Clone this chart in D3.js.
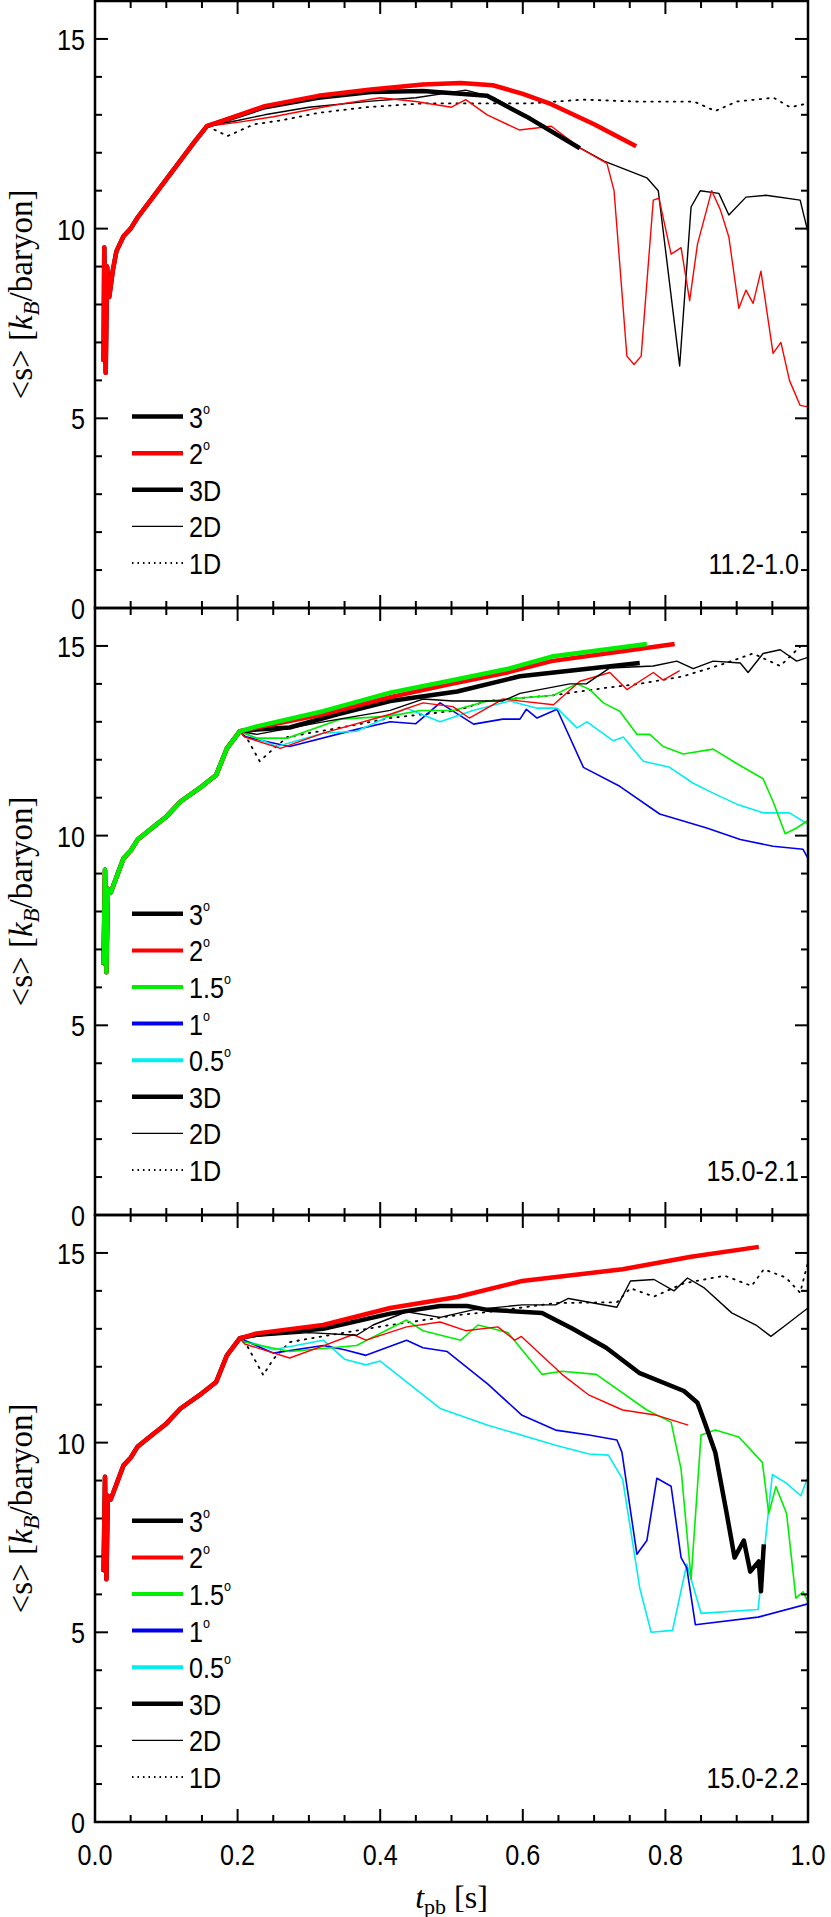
<!DOCTYPE html>
<html>
<head>
<meta charset="utf-8">
<script src="https://cdn.jsdelivr.net/npm/d3@7"></script>
<style>
  body { margin: 0; background: #fff; }
  svg { display: block; }
</style>
</head>
<body>
<svg id="chart" width="831" height="1917"></svg>
<script>
// Early rise, shared by all runs of a progenitor
const rise11 = [[0.012,6.5],[0.013,9.5],[0.015,6.2],[0.017,9.0],[0.02,8.2],[0.025,8.9],[0.03,9.4],[0.04,9.8],[0.05,10.0],[0.06,10.3],[0.08,10.8],[0.1,11.3],[0.12,11.8],[0.14,12.3],[0.157,12.7]];
const rise15 = [[0.012,6.6],[0.014,9.1],[0.016,6.4],[0.018,8.6],[0.022,8.5],[0.03,8.9],[0.04,9.4],[0.05,9.6],[0.06,9.9],[0.08,10.2],[0.1,10.5],[0.12,10.9],[0.15,11.3],[0.17,11.6],[0.185,12.3],[0.203,12.75]];

// Panel 1: 11.2-1.0
const p1_red3d = [[0.238,13.23],[0.313,13.5],[0.387,13.67],[0.46,13.8],[0.513,13.84],[0.558,13.78],[0.6,13.55],[0.64,13.28],[0.7,12.75],[0.759,12.17]];
const p1_black3d = [[0.238,13.2],[0.313,13.45],[0.387,13.6],[0.46,13.63],[0.55,13.5],[0.61,12.9],[0.68,12.12]];
const p1_red2d = [[0.2,12.8],[0.25,12.95],[0.313,13.18],[0.35,13.3],[0.4,13.45],[0.45,13.35],[0.5,13.2],[0.52,13.4],[0.55,13.0],[0.595,12.6],[0.64,12.7],[0.68,12.13],[0.718,11.72],[0.728,11.0],[0.746,6.64],[0.756,6.42],[0.766,6.64],[0.783,10.75],[0.791,10.8],[0.808,9.33],[0.822,9.5],[0.834,8.1],[0.845,9.59],[0.865,11.0],[0.877,10.5],[0.889,9.78],[0.903,7.9],[0.913,8.38],[0.923,8.03],[0.934,8.88],[0.951,6.71],[0.962,7.0],[0.974,6.0],[0.989,5.34],[1.0,5.3]];
const p1_black2d = [[0.2,12.85],[0.238,13.0],[0.3,13.2],[0.387,13.36],[0.45,13.45],[0.52,13.65],[0.56,13.45],[0.64,12.6],[0.68,12.13],[0.714,11.78],[0.774,11.34],[0.79,11.0],[0.82,6.38],[0.836,10.57],[0.849,11.0],[0.875,10.93],[0.889,10.36],[0.913,10.83],[0.941,10.88],[0.989,10.75],[1.0,9.9]];
const p1_1d = [[0.186,12.44],[0.223,12.75],[0.26,12.85],[0.313,13.05],[0.38,13.2],[0.46,13.3],[0.61,13.3],[0.684,13.4],[0.76,13.35],[0.84,13.35],[0.87,13.1],[0.9,13.35],[0.952,13.45],[0.975,13.2],[1.0,13.3]];

// Panel 2: 15.0-2.1
const p2_green3d = [[0.227,12.88],[0.32,13.28],[0.414,13.77],[0.508,14.12],[0.578,14.39],[0.643,14.73],[0.774,15.05]];
const p2_red3d = [[0.227,12.85],[0.32,13.2],[0.414,13.65],[0.5,14.0],[0.578,14.3],[0.64,14.6],[0.813,15.05]];
const p2_black3d = [[0.227,12.8],[0.273,12.85],[0.34,13.2],[0.414,13.55],[0.508,13.8],[0.596,14.2],[0.764,14.55]];
const p2_black2d = [[0.227,12.67],[0.32,13.0],[0.414,13.3],[0.46,13.6],[0.502,13.55],[0.572,13.55],[0.596,13.75],[0.666,14.0],[0.689,14.0],[0.722,14.42],[0.783,14.47],[0.816,14.6],[0.839,14.4],[0.867,14.6],[0.905,14.55],[0.916,14.3],[0.937,14.8],[0.961,14.9],[0.984,14.6],[1.0,14.7]];
const p2_1d = [[0.213,12.57],[0.231,11.96],[0.245,12.2],[0.27,12.6],[0.36,12.9],[0.414,13.1],[0.508,13.3],[0.55,13.55],[0.643,13.7],[0.718,13.9],[0.764,14.0],[0.825,14.2],[0.877,14.5],[0.923,14.8],[0.961,14.47],[0.99,15.0]];
const p2_red2d = [[0.21,12.6],[0.26,12.3],[0.32,12.7],[0.414,13.2],[0.46,13.5],[0.502,13.4],[0.525,13.1],[0.572,13.6],[0.643,13.45],[0.68,14.07],[0.722,14.3],[0.746,13.85],[0.783,14.3],[0.797,14.1],[0.82,14.35]];
const p2_green2d = [[0.227,12.57],[0.27,12.57],[0.344,13.07],[0.414,13.15],[0.456,13.3],[0.502,13.3],[0.55,13.55],[0.643,13.7],[0.676,14.0],[0.694,13.85],[0.713,13.5],[0.736,13.28],[0.76,12.67],[0.778,12.67],[0.797,12.35],[0.825,12.15],[0.867,12.28],[0.9,11.9],[0.937,11.5],[0.951,10.9],[0.968,10.05],[0.984,10.2],[1.0,10.4]];
const p2_blue2d = [[0.209,12.62],[0.235,12.5],[0.273,12.35],[0.367,12.8],[0.414,13.0],[0.45,12.95],[0.484,13.5],[0.531,12.94],[0.572,13.07],[0.596,13.07],[0.605,13.33],[0.62,13.1],[0.648,13.33],[0.685,11.8],[0.736,11.3],[0.792,10.57],[0.858,10.2],[0.905,9.9],[0.951,9.72],[0.993,9.64],[1.0,9.4]];
const p2_cyan2d = [[0.209,12.7],[0.255,12.35],[0.32,12.7],[0.367,12.75],[0.437,13.36],[0.484,13.0],[0.53,13.3],[0.582,13.55],[0.62,13.36],[0.648,13.36],[0.676,12.84],[0.69,13.0],[0.727,12.5],[0.741,12.6],[0.769,11.96],[0.806,11.8],[0.839,11.38],[0.867,11.12],[0.9,10.83],[0.937,10.6],[0.974,10.6],[1.0,10.3]];

// Panel 3: 15.0-2.2
const p3_red3d = [[0.227,12.88],[0.32,13.1],[0.414,13.55],[0.508,13.84],[0.599,14.26],[0.74,14.57],[0.836,14.9],[0.931,15.16]];
const p3_black3d = [[0.227,12.85],[0.32,13.0],[0.414,13.4],[0.484,13.6],[0.522,13.6],[0.55,13.5],[0.627,13.42],[0.67,13.0],[0.717,12.5],[0.764,11.83],[0.826,11.36],[0.845,11.05],[0.855,10.54],[0.87,9.74],[0.886,8.13],[0.897,6.97],[0.91,7.42],[0.919,6.6],[0.931,6.87],[0.934,6.08],[0.938,7.32]];
const p3_black2d = [[0.227,12.8],[0.3,12.9],[0.367,12.83],[0.39,13.1],[0.437,13.45],[0.484,13.3],[0.53,13.5],[0.599,13.63],[0.646,13.63],[0.664,13.8],[0.732,13.57],[0.751,14.26],[0.784,14.3],[0.812,14.0],[0.831,14.34],[0.855,14.07],[0.893,13.42],[0.927,13.1],[0.948,12.8],[0.969,13.1],[1.0,13.55]];
const p3_1d = [[0.209,12.7],[0.236,11.78],[0.25,12.2],[0.273,12.65],[0.35,12.9],[0.414,13.1],[0.508,13.36],[0.55,13.44],[0.646,13.68],[0.732,13.7],[0.751,14.07],[0.784,13.85],[0.826,14.2],[0.883,14.4],[0.921,14.13],[0.938,14.57],[0.969,14.35],[0.989,13.95],[1.0,14.76]];
const p3_red2d = [[0.21,12.6],[0.273,12.23],[0.32,12.55],[0.362,12.85],[0.38,12.7],[0.437,13.05],[0.484,13.18],[0.52,12.95],[0.565,13.05],[0.589,12.7],[0.598,12.8],[0.655,11.8],[0.693,11.25],[0.74,10.86],[0.788,10.72],[0.832,10.46]];
const p3_green2d = [[0.21,12.65],[0.273,12.4],[0.367,12.56],[0.437,13.23],[0.46,12.95],[0.513,12.7],[0.537,13.1],[0.565,12.97],[0.579,12.9],[0.627,11.8],[0.655,11.88],[0.703,11.8],[0.774,10.86],[0.808,10.54],[0.822,9.3],[0.836,6.4],[0.85,10.2],[0.87,10.33],[0.903,10.15],[0.936,9.48],[0.945,8.13],[0.955,8.84],[0.97,8.13],[0.983,5.9],[0.993,6.07],[1.0,5.8]];
const p3_blue2d = [[0.209,12.7],[0.25,12.36],[0.32,12.56],[0.35,12.45],[0.38,12.3],[0.437,12.7],[0.46,12.5],[0.494,12.4],[0.551,11.54],[0.599,10.72],[0.646,10.33],[0.693,10.2],[0.732,10.07],[0.739,9.75],[0.76,7.06],[0.774,7.42],[0.788,9.06],[0.808,8.85],[0.822,6.97],[0.83,6.7],[0.842,5.2],[0.93,5.4],[1.0,5.75]];
const p3_cyan2d = [[0.209,12.7],[0.25,12.45],[0.32,12.7],[0.35,12.2],[0.38,12.05],[0.4,12.15],[0.484,10.9],[0.551,10.46],[0.646,9.93],[0.693,9.7],[0.72,9.67],[0.74,9.04],[0.764,6.17],[0.78,5.0],[0.81,5.05],[0.83,6.8],[0.85,5.5],[0.93,5.6],[0.95,9.16],[0.969,8.94],[0.99,8.6],[1.0,9.1]];

const panelLabels = ['11.2-1.0', '15.0-2.1', '15.0-2.2'];
const xTicks = [0, 0.2, 0.4, 0.6, 0.8, 1.0];
const yTicks = [0, 5, 10, 15];

const C = { black: '#000', red: '#ff0000', green: '#00ee00', blue: '#0000ee', cyan: '#00eeee' };

const panels = [
  {
    series: [
      { d: rise11.concat(p1_1d), c: C.black, w: 1.8, dash: '1.5,6' },
      { d: rise11.concat(p1_black2d), c: C.black, w: 1.4 },
      { d: rise11.concat(p1_red2d), c: C.red, w: 1.4 },
      { d: rise11.concat(p1_black3d), c: C.black, w: 4.5 },
      { d: rise11.concat(p1_red3d), c: C.red, w: 4.5 }
    ],
    legend: [['3', C.black, 4.5, true], ['2', C.red, 4.5, true], ['3D', C.black, 4.5], ['2D', C.black, 1.4], ['1D', C.black, 1.8, false, '1.5,4']]
  },
  {
    series: [
      { d: rise15.concat(p2_1d), c: C.black, w: 1.8, dash: '1.5,6' },
      { d: rise15.concat(p2_blue2d), c: C.blue, w: 1.6 },
      { d: rise15.concat(p2_cyan2d), c: C.cyan, w: 1.6 },
      { d: rise15.concat(p2_green2d), c: C.green, w: 1.6 },
      { d: rise15.concat(p2_red2d), c: C.red, w: 1.4 },
      { d: rise15.concat(p2_black2d), c: C.black, w: 1.4 },
      { d: rise15.concat(p2_black3d), c: C.black, w: 4.5 },
      { d: rise15.concat(p2_red3d), c: C.red, w: 4.5 },
      { d: rise15.concat(p2_green3d), c: C.green, w: 4.5 }
    ],
    legend: [['3', C.black, 4.5, true], ['2', C.red, 4, true], ['1.5', C.green, 4, true], ['1', C.blue, 4, true], ['0.5', C.cyan, 4, true], ['3D', C.black, 4.5], ['2D', C.black, 1.4], ['1D', C.black, 1.8, false, '1.5,4']]
  },
  {
    series: [
      { d: rise15.concat(p3_1d), c: C.black, w: 1.8, dash: '1.5,6' },
      { d: rise15.concat(p3_cyan2d), c: C.cyan, w: 1.6 },
      { d: rise15.concat(p3_blue2d), c: C.blue, w: 1.6 },
      { d: rise15.concat(p3_green2d), c: C.green, w: 1.6 },
      { d: rise15.concat(p3_red2d), c: C.red, w: 1.4 },
      { d: rise15.concat(p3_black2d), c: C.black, w: 1.4 },
      { d: rise15.concat(p3_black3d), c: C.black, w: 4.5 },
      { d: rise15.concat(p3_red3d), c: C.red, w: 4.5 }
    ],
    legend: [['3', C.black, 4.5, true], ['2', C.red, 4, true], ['1.5', C.green, 4, true], ['1', C.blue, 4, true], ['0.5', C.cyan, 4, true], ['3D', C.black, 4.5], ['2D', C.black, 1.4], ['1D', C.black, 1.8, false, '1.5,4']]
  }
];

const svg = d3.select('#chart');
const left = 95, right = 808, top0 = 1, panelH = 607;
const sans = '"Liberation Sans", Arial, sans-serif';
const serif = '"Liberation Serif", "DejaVu Serif", serif';
const fs = 30, squeeze = 0.84;

// condensed sans text: scale horizontally around its anchor point
function narrowText(parent, px, py, anchor, str) {
  return parent.append('text')
    .attr('transform', `translate(${px},${py}) scale(${squeeze},1)`)
    .attr('text-anchor', anchor).attr('font-family', sans).attr('font-size', fs)
    .text(str);
}

const x = d3.scaleLinear().domain([0, 1]).range([left, right]);

panels.forEach((p, i) => {
  const top = top0 + i * panelH;
  const bottom = top + panelH;
  const y = d3.scaleLinear().domain([0, 16]).range([bottom, top]);
  const g = svg.append('g');

  g.append('clipPath').attr('id', 'clip' + i)
    .append('rect').attr('x', left).attr('y', top).attr('width', right - left).attr('height', panelH);

  let line = d3.line().x((d) => x(d[0])).y((d) => y(d[1]));
  let lines = g.append('g').attr('clip-path', `url(#clip${i})`);
  p.series.forEach((s) => {
    lines.append('path')
      .attr('d', line(s.d))
      .attr('fill', 'none')
      .attr('stroke', s.c)
      .attr('stroke-width', s.w)
      .attr('stroke-linejoin', 'round')
      .attr('stroke-linecap', s.dash ? 'round' : 'butt')
      .attr('stroke-dasharray', s.dash || null);
  });

  // ticks (inward, on all four sides)
  let tk = g.append('g').attr('stroke', '#000').attr('stroke-width', 2);
  d3.range(0, 16.01, 1).forEach((v) => {
    let len = v % 5 === 0 ? 13 : 7;
    tk.append('line').attr('x1', left).attr('x2', left + len).attr('y1', y(v)).attr('y2', y(v));
    tk.append('line').attr('x1', right).attr('x2', right - len).attr('y1', y(v)).attr('y2', y(v));
  });
  d3.range(0, 1.001, 0.05).forEach((v) => {
    let major = Math.abs(v * 5 - Math.round(v * 5)) < 1e-6;
    let len = major ? 13 : 7;
    tk.append('line').attr('x1', x(v)).attr('x2', x(v)).attr('y1', bottom).attr('y2', bottom - len);
    tk.append('line').attr('x1', x(v)).attr('x2', x(v)).attr('y1', top).attr('y2', top + len);
  });

  g.append('rect').attr('x', left).attr('y', top).attr('width', right - left).attr('height', panelH)
    .attr('fill', 'none').attr('stroke', '#000').attr('stroke-width', 2.5);

  yTicks.forEach((v) => narrowText(g, left - 10, y(v) + 11, 'end', v));

  // y axis title
  let yt = g.append('text')
    .attr('transform', `translate(32,${top + panelH / 2 - 10}) rotate(-90)`)
    .attr('text-anchor', 'middle').attr('font-family', serif).attr('font-size', 33);
  yt.append('tspan').text('<s> [');
  yt.append('tspan').attr('font-style', 'italic').text('k');
  yt.append('tspan').attr('font-style', 'italic').attr('font-size', 23).attr('dy', 7).text('B');
  yt.append('tspan').attr('dy', -7).text('/baryon]');

  // legend
  let n = p.legend.length;
  p.legend.forEach((item, j) => {
    let ly = top + 562 - (n - 1 - j) * 36.6;
    g.append('line').attr('x1', 132).attr('x2', 183).attr('y1', ly).attr('y2', ly)
      .attr('stroke', item[1]).attr('stroke-width', item[2])
      .attr('stroke-dasharray', item[4] || null);
    let t = narrowText(g, 189, ly + 11, 'start', item[0]);
    if (item[3]) t.append('tspan').attr('font-size', 15).attr('dy', -14).text('o');
  });

  narrowText(g, 799, top + 573, 'end', panelLabels[i]);
});

// x tick labels and title
const xBottom = top0 + 3 * panelH;
xTicks.forEach((v) => narrowText(svg, x(v), xBottom + 43, 'middle', v.toFixed(1)));
let xt = svg.append('text').attr('x', x(0.5)).attr('y', xBottom + 86)
  .attr('text-anchor', 'middle').attr('font-family', serif).attr('font-size', 32);
xt.append('tspan').attr('font-style', 'italic').text('t');
xt.append('tspan').attr('font-size', 22).attr('dy', 6).text('pb');
xt.append('tspan').attr('dy', -6).text(' [s]');
</script>
</body>
</html>
